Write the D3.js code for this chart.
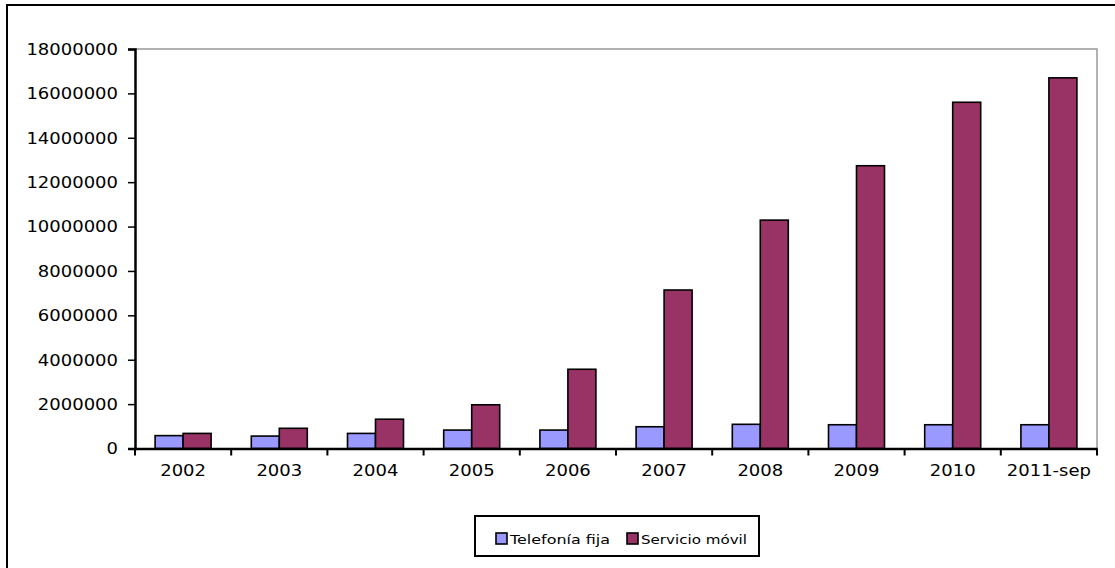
<!DOCTYPE html>
<html><head><meta charset="utf-8">
<script src="https://cdn.jsdelivr.net/npm/d3@7"></script>
<style>body{margin:0;background:#fff;} text{font-family:"DejaVu Sans",Verdana,sans-serif;}</style>
</head><body>
<svg id="c" width="1115" height="568"></svg>
<script>
const categories = ["2002","2003","2004","2005","2006","2007","2008","2009","2010","2011-sep"];
const seriesNames = ["Telefonía fija","Servicio móvil"];
const fija  = [580000,560000,680000,830000,830000,980000,1090000,1070000,1070000,1070000];
const movil = [680000,910000,1320000,1970000,3570000,7140000,10290000,12740000,15600000,16700000];
const yTicks = [0,2000000,4000000,6000000,8000000,10000000,12000000,14000000,16000000,18000000];
const colors = ["#9999FF","#993366"];

const svg = d3.select("#c");
const L=135, R=1097, T=49, B=448.5;
// outer frame
svg.append("rect").attr("x",7).attr("y",5).attr("width",1130).attr("height",600)
  .attr("fill","none").attr("stroke","#000").attr("stroke-width",2);

const x = d3.scaleBand().domain(categories).range([L,R]).paddingInner(0).paddingOuter(0);
const xs = d3.scaleBand().domain(seriesNames).range([0,x.bandwidth()]).paddingInner(0).paddingOuter(0.718);
const y = d3.scaleLinear().domain([0,18000000]).range([B,T]);

// plot border (gray top/right)
svg.append("path").attr("d",`M${L},${T}H${R}V${B}`).attr("fill","none").attr("stroke","#999").attr("stroke-width",1.5);

const data = categories.map((c,i)=>({c, vals:[fija[i],movil[i]]}));
const g = svg.append("g").selectAll("g").data(data).join("g").attr("transform",d=>`translate(${x(d.c)},0)`);
g.selectAll("rect").data(d=>d.vals.map((v,j)=>({v,j}))).join("rect")
  .attr("x",d=>xs(seriesNames[d.j])).attr("width",xs.bandwidth())
  .attr("y",d=>y(d.v)).attr("height",d=>B-y(d.v))
  .attr("fill",d=>colors[d.j]).attr("stroke","#000").attr("stroke-width",1.6);

// y axis
const ya = svg.append("g").attr("transform",`translate(${L},0)`)
  .call(d3.axisLeft(y).tickValues(yTicks).tickFormat(d3.format("d")).tickSize(7).tickPadding(10));
ya.select(".domain").attr("stroke","#000").attr("stroke-width",2.5);
ya.selectAll(".tick line").attr("stroke","#000").attr("stroke-width",1.5);
ya.selectAll("text").attr("font-size",15).attr("fill","#000").attr("dy","0.36em");

// x axis
const xa = svg.append("g").attr("transform",`translate(0,${B})`)
  .call(d3.axisBottom(x).tickSize(0).tickPadding(17));
xa.select(".domain").attr("stroke","#000").attr("stroke-width",2.5);
xa.selectAll("text").attr("font-size",15).attr("fill","#000");
// category boundary ticks
const bounds = categories.map(c=>x(c)).concat([R]);
svg.append("g").selectAll("line").data(bounds).join("line")
  .attr("x1",d=>d).attr("x2",d=>d).attr("y1",B).attr("y2",B+7)
  .attr("stroke","#000").attr("stroke-width",2);

// stretch axis text horizontally
function stretch(sel,f){ sel.each(function(){ const w=this.getComputedTextLength(); d3.select(this).attr("textLength",w*f).attr("lengthAdjust","spacingAndGlyphs"); }); }
stretch(ya.selectAll("text"),1.2);
stretch(xa.selectAll("text"),1.2);

// legend
const lg = svg.append("g");
lg.append("rect").attr("x",475).attr("y",516).attr("width",284).attr("height",40)
  .attr("fill","#fff").attr("stroke","#000").attr("stroke-width",2);
const lx=[496,627];
seriesNames.forEach((s,i)=>{
  lg.append("rect").attr("x",lx[i]).attr("y",533).attr("width",11).attr("height",11)
    .attr("fill",colors[i]).attr("stroke","#000").attr("stroke-width",1.6);
  const t = lg.append("text").attr("x",lx[i]+14).attr("y",543.5).attr("font-size",13).attr("fill","#000").text(s);
  t.attr("textLength",i===0?100:106).attr("lengthAdjust","spacingAndGlyphs");
});
</script>
</body></html>
